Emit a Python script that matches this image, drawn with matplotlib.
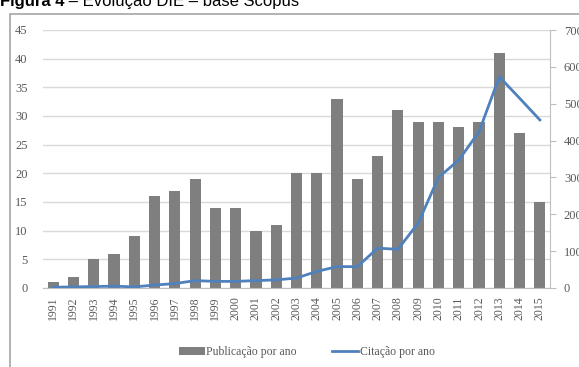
import matplotlib.pyplot as plt
from matplotlib.patches import Rectangle
import numpy as np

anos = [str(a) for a in range(1991, 2016)]
publicacoes = [1, 2, 5, 6, 9, 16, 17, 19, 14, 14, 10, 11, 20, 20, 33, 19, 23, 31, 29, 29, 28, 29, 41, 27, 15]
citacoes = [2, 3, 4, 5, 3, 8, 12, 20, 18, 18, 20, 22, 27, 45, 58, 58, 108, 105, 176, 300, 347, 424, 573, 515, 456]

serif = ['Liberation Serif', 'DejaVu Serif']
cor_txt = '#595959'

fig = plt.figure(figsize=(5.79, 3.67), dpi=100)

# moldura da figura
fig.patches.append(Rectangle((10 / 579, -0.1), 1.0, 1.1 - 14 / 367, transform=fig.transFigure,
                             fill=False, edgecolor='#a6a6a6', linewidth=1.2))

# titulo: parte em negrito + resto logo a seguir
t1 = fig.text(0.0, 1 - 6 / 367, 'Figura 4', fontsize=12, fontweight='bold',
              family='Liberation Sans', va='baseline', ha='left')
r = fig.canvas.get_renderer()
bb = t1.get_window_extent(renderer=r)
fig.text(bb.x1 / fig.bbox.width, 1 - 6 / 367, ' \u2013 Evolução DIE \u2013 base Scopus', fontsize=12,
         family='Liberation Sans', va='baseline', ha='left')

ax = fig.add_axes([43 / 579, 1 - 288 / 367, 507 / 579, 258 / 367])
x = np.arange(len(anos))
barras = ax.bar(x, publicacoes, width=0.55, color='#7f7f7f', zorder=2, label='Publicação por ano')
ax.set_xlim(-0.5, len(anos) - 0.5)
ax.set_ylim(0, 45)
ax.set_yticks(range(0, 46, 5))
ax.yaxis.grid(True, color='#d9d9d9', linewidth=1, zorder=0)
ax.set_axisbelow(True)
ax.set_xticks(x)
ax.set_xticklabels(anos, rotation=90, family=serif, fontsize=8.5, color=cor_txt)
ax.tick_params(axis='x', length=0, pad=6)
ax.tick_params(axis='y', length=0, pad=11, labelsize=9, labelcolor=cor_txt)
for lab in ax.get_yticklabels():
    lab.set_family(serif)
for s in ['top', 'right', 'left']:
    ax.spines[s].set_visible(False)
ax.spines['bottom'].set_color('#bfbfbf')

ax2 = ax.twinx()
linha, = ax2.plot(x, citacoes, color='#4f81bd', linewidth=2, zorder=3, label='Citação por ano')
ax2.set_ylim(0, 700)
ax2.set_yticks(range(0, 701, 100))
ax2.tick_params(axis='y', length=4, color='#bfbfbf', pad=6, labelsize=9, labelcolor=cor_txt)
for lab in ax2.get_yticklabels():
    lab.set_family(serif)
for s in ['top', 'left', 'bottom']:
    ax2.spines[s].set_visible(False)
ax2.spines['right'].set_color('#bfbfbf')

fig.legend([barras, linha], ['Publicação por ano', 'Citação por ano'], loc='center',
           bbox_to_anchor=(0.53, 1 - 352 / 367), ncol=2, frameon=False,
           prop={'family': serif, 'size': 8.5}, handlelength=2.2, handletextpad=0.1,
           columnspacing=3, labelcolor=cor_txt)

fig.savefig('out.png', dpi=100)
